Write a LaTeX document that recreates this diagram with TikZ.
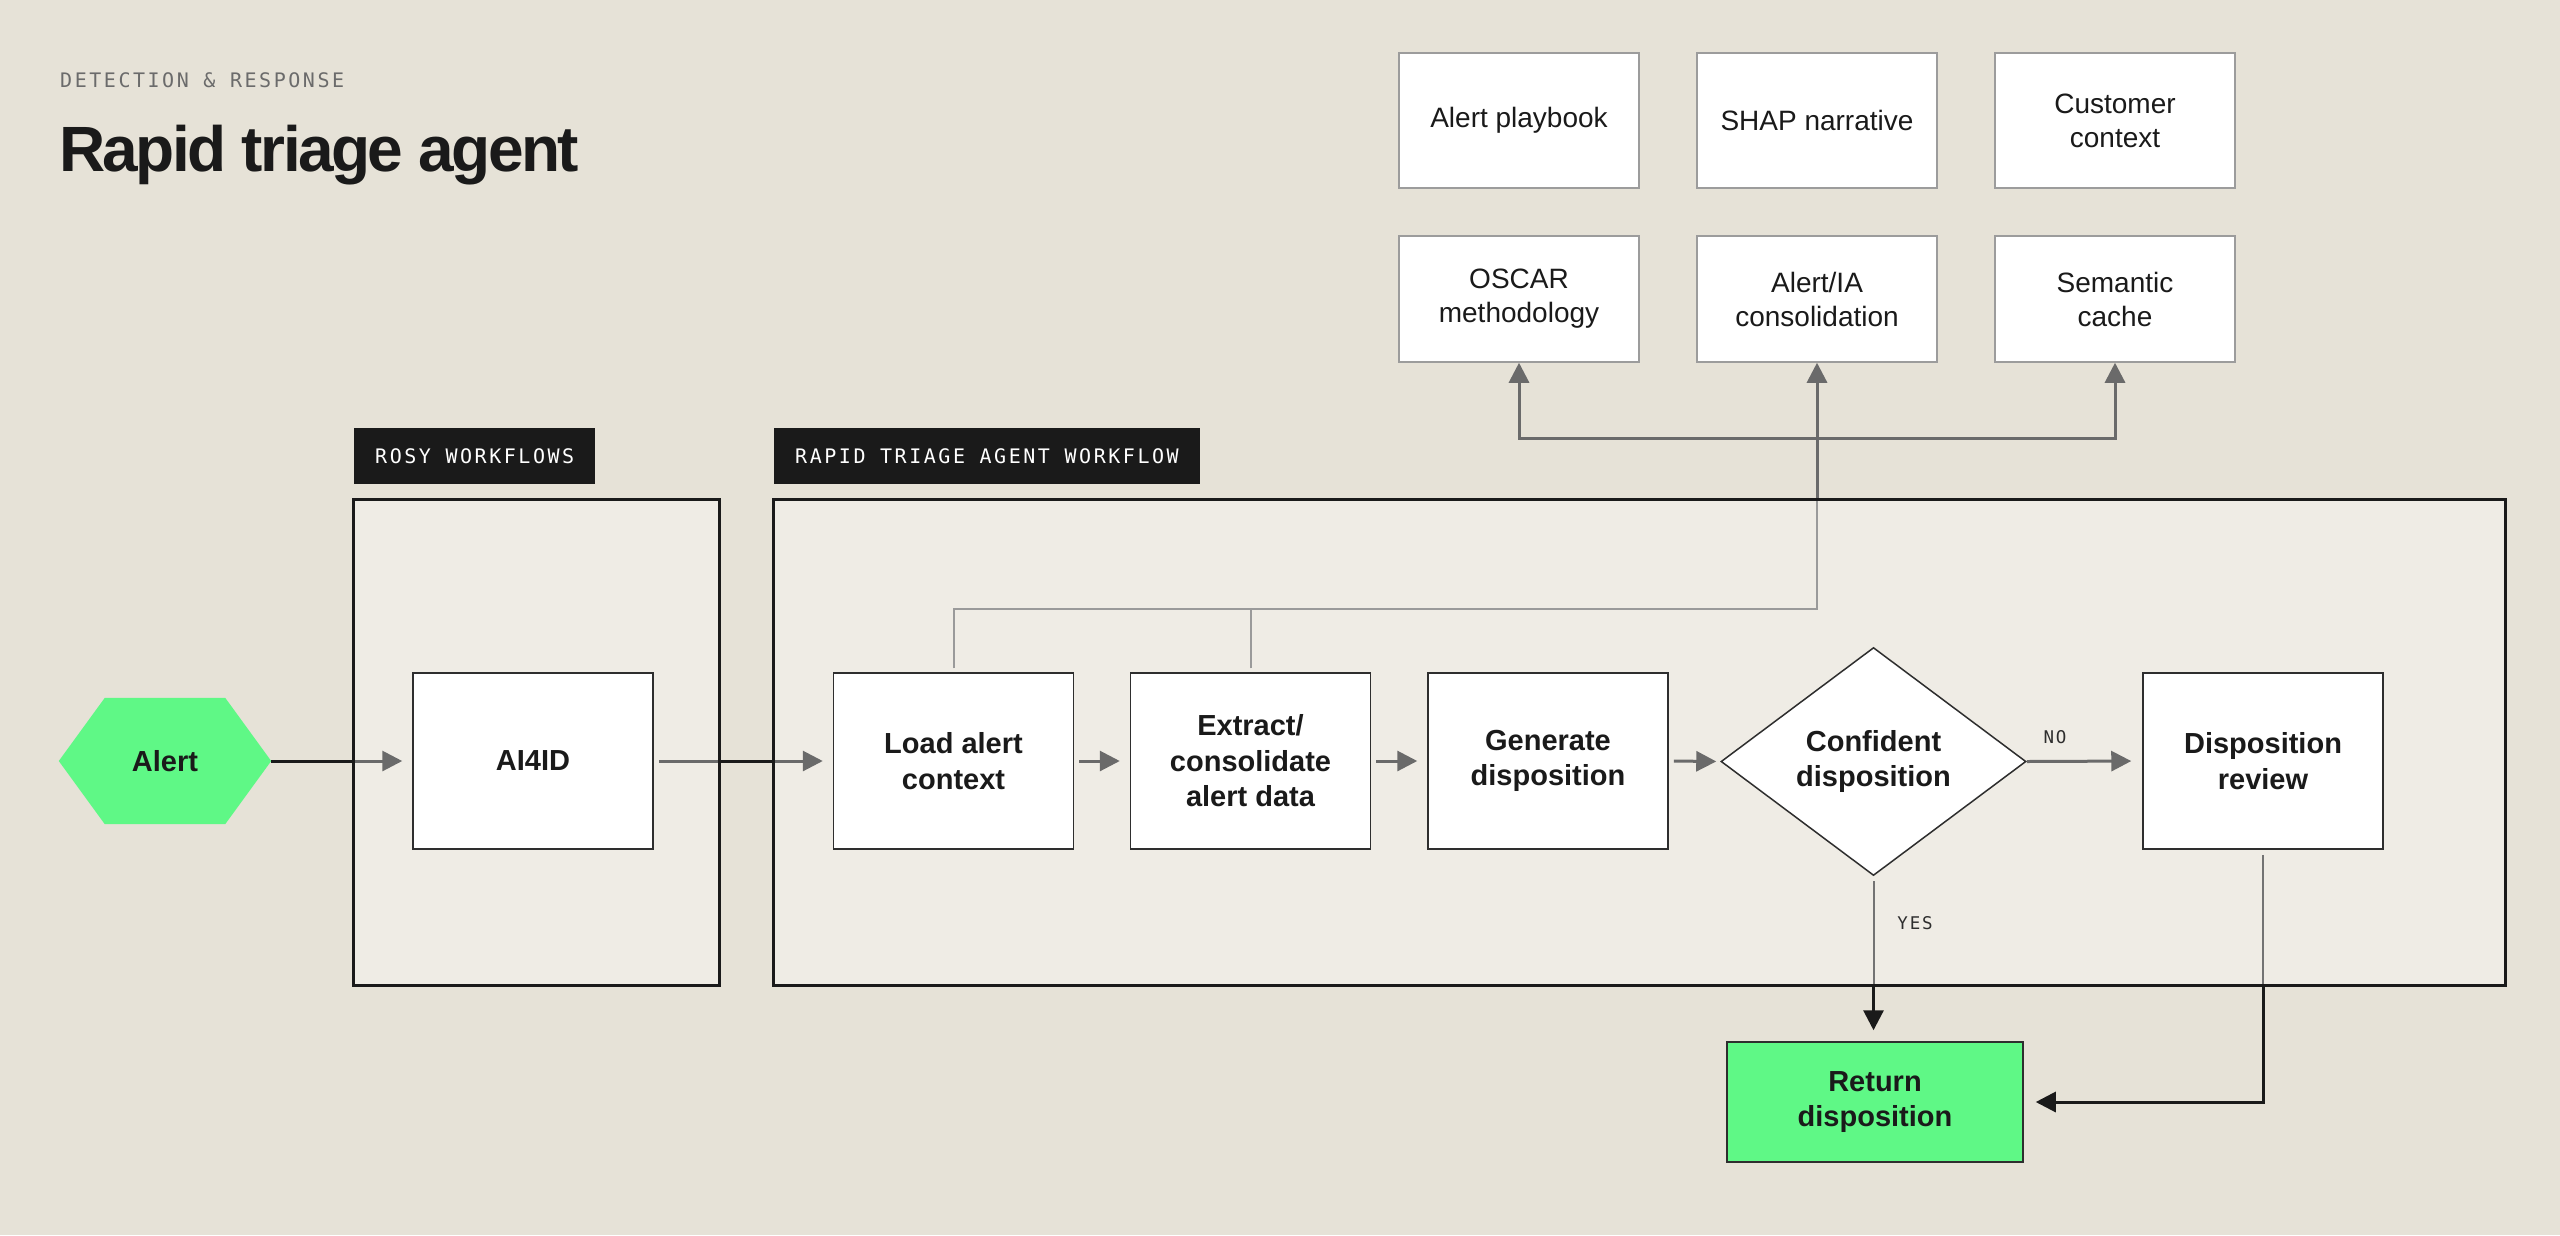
\documentclass[tikz,border=0pt]{standalone}
\usepackage{fontspec}
\setmainfont{Liberation Sans}
\newfontfamily\monof[LetterSpace=12.7]{DejaVu Sans Mono}
\newfontfamily\smallmonof[LetterSpace=10]{DejaVu Sans Mono}
\newfontfamily\titlef[LetterSpace=-4]{Liberation Sans}
\usetikzlibrary{arrows.meta,shapes.geometric,calc}
\definecolor{bgc}{HTML}{E6E2D7}
\definecolor{contfill}{HTML}{EFECE5}
\definecolor{ink}{HTML}{1A1A1A}
\definecolor{tagc}{HTML}{1A1A1A}
\definecolor{boxline}{HTML}{2E2E2E}
\definecolor{ctxline}{HTML}{9C9C9C}
\definecolor{flowgray}{HTML}{6A6A6A}
\definecolor{flowgraytwo}{HTML}{737373}
\definecolor{lightgray}{HTML}{9A9A9A}
\definecolor{subgray}{HTML}{6B6B6B}
\definecolor{alertgreen}{HTML}{5FF886}
\pgfdeclarelayer{bglayer}
\pgfdeclarelayer{fglayer}
\pgfsetlayers{bglayer,main,fglayer}
\tikzset{
  tip/.tip={Triangle[length=20pt,width=20pt]},
  box/.style={draw=boxline, line width=1.5pt, fill=white, minimum width=240pt,
    minimum height=176pt, inner sep=0pt, align=center, text=ink,
    font=\fontsize{29}{35.5}\selectfont\bfseries},
  ctxbox/.style={draw=ctxline, line width=1.5pt, fill=white, minimum width=240pt,
    inner sep=0pt, align=center, text=ink,
    font=\fontsize{28}{34}\selectfont},
  container/.style={fill=contfill, inner sep=0pt, minimum height=485pt},
  contborder/.style={draw=ink, line width=3pt},
  tag/.style={fill=tagc, text=white, inner xsep=21pt, inner ysep=0pt,
    minimum height=56pt, font=\monof\fontsize{20}{22}\selectfont},
  lbl/.style={text=boxline, inner sep=0pt, font=\smallmonof\fontsize{17.5}{19}\selectfont},
  flowc/.style={draw=ink, line width=3pt, -tip, shorten >=10pt, shorten <=5pt},
  botc/.style={draw=ink, line width=3pt, -tip, shorten >=11pt, shorten <=5pt},
  topc/.style={draw=flowgray, line width=3pt, -tip, shorten <=4pt},
  topline/.style={draw=flowgray, line width=3pt, shorten <=4pt},
}
\newcommand\drawconnectors{%
  \draw[flowc, shorten <=0pt] (alert.east) -- (ai4id.west);
  \draw[flowc] (ai4id.east) -- (load.west);
  \draw[flowc] (load.east) -- (extract.west);
  \draw[flowc] (extract.east) -- (generate.west);
  \draw[flowc, shorten >=4pt] (generate.east) -- (confident.west);
  \draw[flowc, shorten <=0pt, shorten >=11pt] (confident.east) -- (review.west);
  \draw[botc] (confident.south) -- (confident.south |- ret.north);
  \draw[botc, shorten >=12pt] (review.south) |- (ret.east);
  \draw[topc] (load.north) -- (load.north |- hub) -| (alertia.south);
  \draw[topline] (extract.north) -- (extract.north |- hub);
  \draw[topc, shorten <=0pt] (alertia.south |- bus) -| (oscar.south);
  \draw[topc, shorten <=0pt] (alertia.south |- bus) -| (semantic.south);
}
\begin{document}
\begin{tikzpicture}[x=1pt,y=-1pt]
\path[use as bounding box] (0,0) rectangle (2560,1235);
\begin{pgfonlayer}{bglayer}
  \fill[bgc] (0,0) rectangle (2560,1235);
  \node[container, minimum width=365pt] (rosy) at (536.5,742.5) {};
  \node[container, minimum width=1731pt] (rapid) at (1639.5,742.5) {};
\end{pgfonlayer}

\begin{pgfonlayer}{fglayer}
  % heading
  \node[anchor=base west, inner sep=0pt, text=subgray,
    font=\monof\fontsize{20}{22}\selectfont] (kicker) at (60,87) {DETECTION \& RESPONSE};
  \node[anchor=base west, inner sep=0pt, text=ink,
    font=\titlef\bfseries\fontsize{64}{64}\selectfont] (title) at (59,171) {Rapid triage agent};
  % container tags
  \node[tag, anchor=north west] (rosytag) at (354,428) {ROSY WORKFLOWS};
  \node[tag, anchor=north west] (rapidtag) at (774,428) {RAPID TRIAGE AGENT WORKFLOW};
  % container borders
  \draw[contborder] (rosy.north west) rectangle (rosy.south east);
  \draw[contborder] (rapid.north west) rectangle (rapid.south east);
  % context boxes
  \node[ctxbox, minimum height=135pt] (playbook) at (1519,120.5) {Alert playbook};
  \node[ctxbox, minimum height=135pt] (shap) at (1817,120.5) {SHAP narrative};
  \node[ctxbox, minimum height=135pt] (customer) at (2115,120.5) {Customer\\context};
  \node[ctxbox, minimum height=126pt] (oscar) at (1519,299) {OSCAR\\methodology};
  \node[ctxbox, minimum height=126pt] (alertia) at (1817,299) {Alert/IA\\consolidation};
  \node[ctxbox, minimum height=126pt] (semantic) at (2115,299) {Semantic\\cache};
  % flow
  \node[inner sep=0pt, minimum width=212pt, minimum height=126pt, text=ink,
    font=\fontsize{29}{35}\selectfont\bfseries] (alert) at (165,761) {Alert};
  \node[box] (ai4id) at (533,761) {AI4ID};
  \node[box] (load) at (953.5,761) {Load alert\\context};
  \node[box] (extract) at (1250.5,761) {Extract/\\consolidate\\alert data};
  \node[box] (generate) at (1548,761) {Generate\\disposition};
  \node[diamond, draw=boxline, line width=1.5pt, fill=white, inner sep=0pt,
    minimum width=305pt, minimum height=228pt, align=center, text=ink,
    font=\fontsize{29}{35}\selectfont\bfseries] (confident) at (1873.5,761.5) {Confident\\disposition};
  \node[box] (review) at (2263,761) {Disposition\\review};
  \node[box, fill=alertgreen, minimum width=296pt, minimum height=120pt] (ret) at (1875,1102) {Return\\disposition};
  \node[lbl] (nolbl) at (2055,737) {NO};
  \node[lbl] (yeslbl) at (1915,923) {YES};
\end{pgfonlayer}

\begin{pgfonlayer}{bglayer}
  \fill[alertgreen] (alert.west) -- ([xshift=46pt]alert.north west)
    -- ([xshift=-46pt]alert.north east) -- (alert.east)
    -- ([xshift=-46pt]alert.south east) -- ([xshift=46pt]alert.south west) -- cycle;
\end{pgfonlayer}

\coordinate (hub) at (0,609);
\coordinate (bus) at (0,438);

% connectors: outside colours
\drawconnectors
% connectors: inside containers
\begin{scope}
  \clip (rosy.north west) rectangle (rosy.south east)
        (rapid.north west) rectangle (rapid.south east);
  \fill[contfill] (rosy.north west) rectangle (rosy.south east);
  \fill[contfill] (rapid.north west) rectangle (rapid.south east);
  \begin{scope}[
    flowc/.style={draw=flowgray, line width=3pt, -tip, shorten >=10pt, shorten <=5pt},
    botc/.style={draw=flowgraytwo, line width=2pt, -tip, shorten >=11pt, shorten <=5pt},
    topc/.style={draw=lightgray, line width=2pt, -tip, shorten <=4pt},
    topline/.style={draw=lightgray, line width=2pt, shorten <=4pt}]
    \drawconnectors
  \end{scope}
\end{scope}
\end{tikzpicture}
\end{document}
